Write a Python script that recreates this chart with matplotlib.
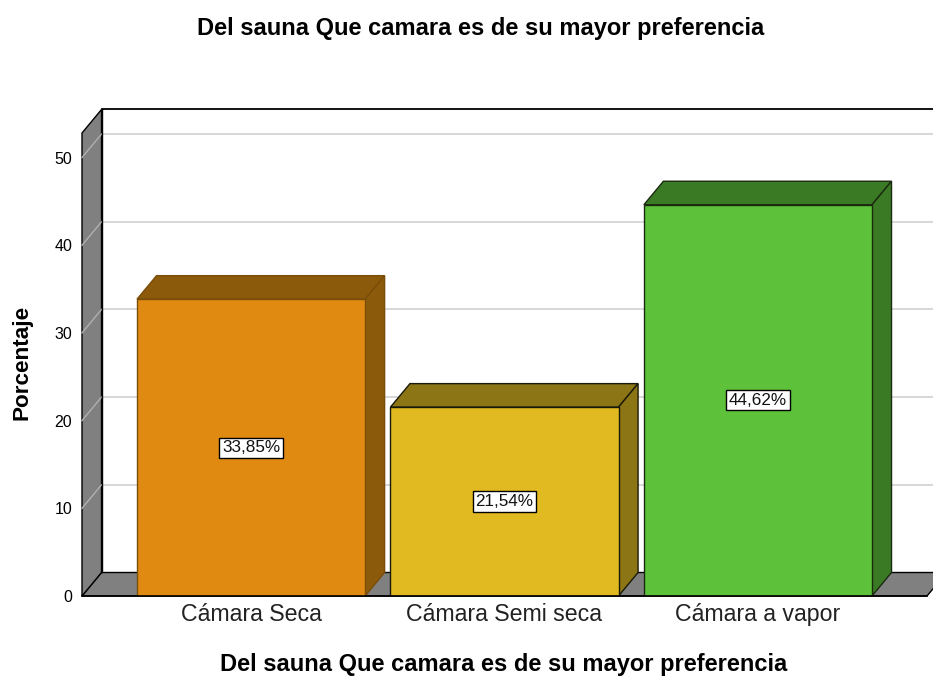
import numpy as np
import matplotlib.pyplot as plt
from matplotlib.patches import Polygon

plt.rcParams['font.family'] = ['Liberation Sans', 'DejaVu Sans']

## chart data
categories = ['Cámara Seca', 'Cámara Semi seca', 'Cámara a vapor']
percent = [33.85, 21.54, 44.62]
yticks = [0, 10, 20, 30, 40, 50]
title = 'Del sauna Que camara es de su mayor preferencia'
xlabel = 'Del sauna Que camara es de su mayor preferencia'
ylabel = 'Porcentaje'

## colours: front, top/side, edge
front_col = ['#e08a12', '#e0ba20', '#5dc23a']
shade_col = ['#8b5a0a', '#8b7515', '#3b7a24']
edge_col = ['#7a4e08', '#1a1a0a', '#1a2a10']

## 3d look
dx = 0.077      # depth in category units
dy = 2.68       # depth in value units
ymax = 52.8
xmin, xmax = -0.667, 2.667
width = 0.9

fig = plt.figure(figsize=(9.33, 6.77), dpi=100)
ax = fig.add_axes([82/933, (677-596)/677, (927-82)/933, (596-133)/677])
ax.set_xlim(xmin, xmax)
ax.set_ylim(0, ymax)
for s in ax.spines.values():
    s.set_visible(False)

wall = '#808080'
grid = '#d4d4d4'

## back wall grid lines
for v in yticks[1:]:
    ax.plot([xmin + dx, xmax + 1], [v + dy, v + dy], color=grid, lw=1.3,
            zorder=1, clip_on=False)
## top line of back wall
ax.plot([xmin + dx, xmax + 1], [ymax + dy, ymax + dy], color='black', lw=1.3,
        zorder=1, clip_on=False)

## floor
floor = Polygon([(xmin, 0), (xmax, 0), (xmax + dx, dy), (xmin + dx, dy)],
                closed=True, facecolor=wall, edgecolor='black', lw=1.0,
                zorder=2, clip_on=False)
ax.add_patch(floor)
## left wall
lwall = Polygon([(xmin, 0), (xmin, ymax), (xmin + dx, ymax + dy), (xmin + dx, dy)],
                closed=True, facecolor=wall, edgecolor='black', lw=1.0,
                zorder=3, clip_on=False)
ax.add_patch(lwall)
# grid lines across the left wall
for v in yticks[1:]:
    ax.plot([xmin, xmin + dx], [v, v + dy], color='#b0b0b0', lw=1.0, zorder=3.5,
            clip_on=False)
ax.plot([xmin + dx, xmin + dx], [dy, ymax + dy], color='black', lw=1.0, zorder=3.6,
        clip_on=False)

## bars
for i, v in enumerate(percent):
    x0 = i - width / 2
    x1 = i + width / 2
    top = Polygon([(x0, v), (x1, v), (x1 + dx, v + dy), (x0 + dx, v + dy)],
                  closed=True, facecolor=shade_col[i], edgecolor=edge_col[i],
                  lw=1.0, zorder=5, clip_on=False)
    side = Polygon([(x1, 0), (x1, v), (x1 + dx, v + dy), (x1 + dx, dy)],
                   closed=True, facecolor=shade_col[i], edgecolor=edge_col[i],
                   lw=1.0, zorder=5, clip_on=False)
    ax.add_patch(top)
    ax.add_patch(side)
    ax.bar(i, v, width=width, color=front_col[i], edgecolor=edge_col[i],
           lw=1.0, zorder=6)
    ax.text(i, v / 2, f'{v:.2f}%'.replace('.', ','), ha='center', va='center',
            fontsize=12.3, zorder=8, color='#111111',
            bbox=dict(boxstyle='square,pad=0.15', fc='white', ec='black', lw=1.0))

## front line of floor
ax.plot([xmin, xmax], [0, 0], color='black', lw=1.2, zorder=7, clip_on=False)

ax.set_yticks(yticks)
ax.set_xticks(range(len(categories)))
ax.set_xticklabels(categories, fontsize=16.7, color='#222222')
ax.tick_params(axis='y', length=0, pad=7, labelsize=11.5)
ax.tick_params(axis='x', length=0, pad=5)

fig.text(481/933, 1 - 29/677, title, ha='center', va='center',
         fontsize=17, fontweight='bold')
fig.text(504/933, 1 - 665/677, xlabel, ha='center', va='center',
         fontsize=17, fontweight='bold')
fig.text(22/933, 1 - 362/677, ylabel, ha='center', va='center',
         rotation=90, fontsize=16.2, fontweight='bold')

fig.savefig('out.png', dpi=100)
